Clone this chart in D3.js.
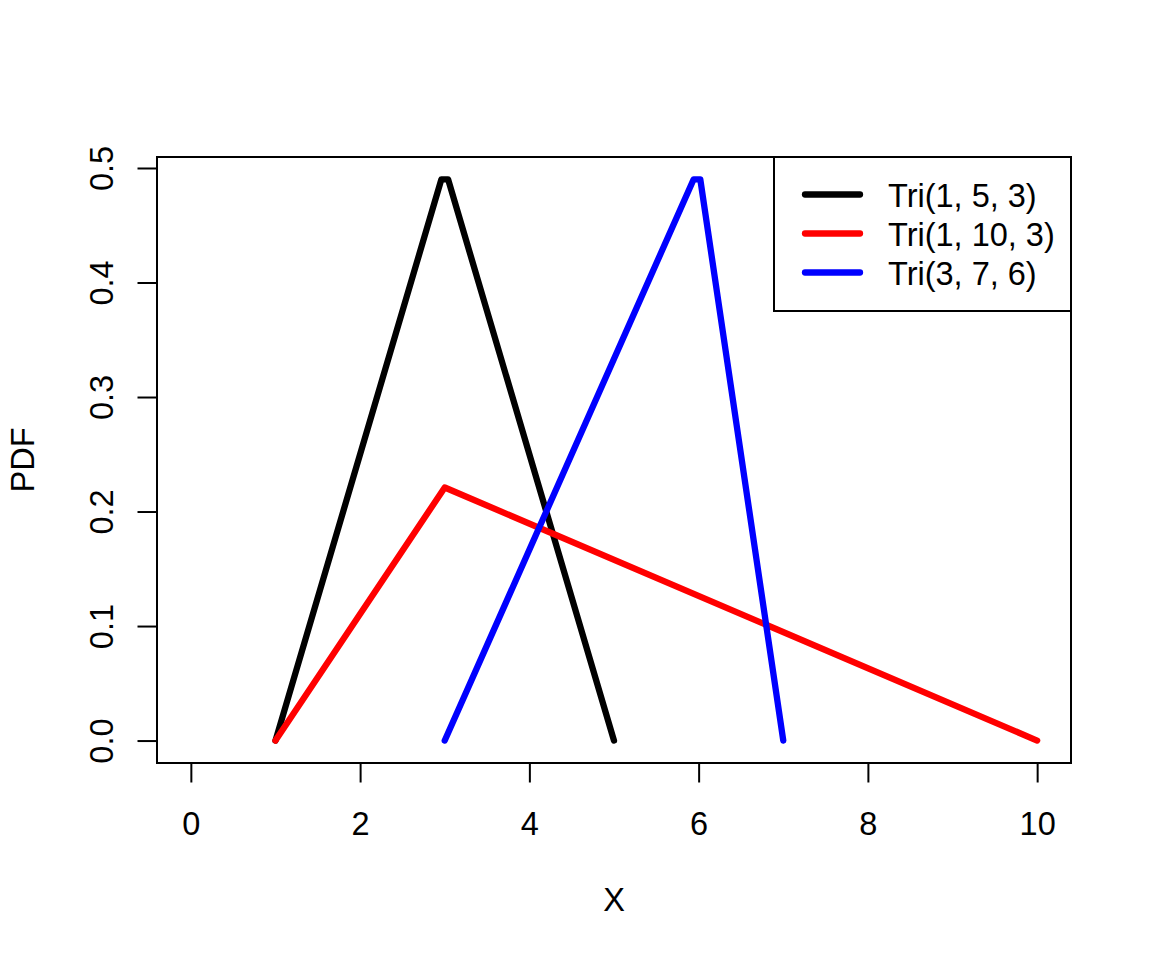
<!DOCTYPE html>
<html><head><meta charset="utf-8">
<script src="https://cdn.jsdelivr.net/npm/d3@7"></script>
<style>body{margin:0;background:#fff;} text{font-family:"Liberation Sans",Arial,sans-serif;}</style>
</head><body>
<svg id="c" width="1152" height="960"></svg>
<script>
// Data (vertices of each triangular PDF as drawn)
const seriesNames = ["Tri(1, 5, 3)", "Tri(1, 10, 3)", "Tri(3, 7, 6)"];
const seriesColors = ["#000000", "#ff0000", "#0000ff"];
const blackX = [1, 2.96, 3.04, 5];
const blackY = [0, 0.49, 0.49, 0];
const redX = [1, 3, 10];
const redY = [0, 0.221, 0];
const blueX = [3, 5.94, 6.02, 7];
const blueY = [0, 0.49, 0.49, 0];
const xTicks = [0, 2, 4, 6, 8, 10];
const yTicks = [0.0, 0.1, 0.2, 0.3, 0.4, 0.5];
const xTitle = "X", yTitle = "PDF";

const svg = d3.select("#c");
const L = 157, R = 1071, T = 157, B = 763;
const x = d3.scaleLinear().domain([-0.4, 10.4]).range([L, R]);
const y = d3.scaleLinear().domain([-0.0196, 0.5096]).range([B, T]);
const fs = 32.5;

// box
svg.append("rect").attr("x", L).attr("y", T).attr("width", R - L).attr("height", B - T)
  .attr("fill", "none").attr("stroke", "#000").attr("stroke-width", 2);

// x axis
const gx = svg.append("g").attr("transform", `translate(0,${B})`)
  .call(d3.axisBottom(x).tickValues(xTicks).tickFormat(d3.format("d")).tickSize(19.5).tickSizeOuter(0));
gx.select(".domain").attr("d", `M${x(0)},0H${x(10)}`).attr("stroke-width", 2);
gx.selectAll(".tick line").attr("stroke-width", 2);
gx.selectAll(".tick text").attr("font-size", fs).attr("fill", "#000")
  .attr("font-family", "Liberation Sans, Arial, sans-serif").attr("y", 72).attr("dy", 0);

// y axis
const gy = svg.append("g").attr("transform", `translate(${L},0)`)
  .call(d3.axisLeft(y).tickValues(yTicks).tickFormat(d3.format(".1f")).tickSize(19.5).tickSizeOuter(0));
gy.select(".domain").attr("d", `M0,${y(0)}V${y(0.5)}`).attr("stroke-width", 2);
gy.selectAll(".tick line").attr("stroke-width", 2);
gy.selectAll(".tick text").attr("font-size", fs).attr("fill", "#000")
  .attr("font-family", "Liberation Sans, Arial, sans-serif")
  .attr("x", null).attr("dy", 0).attr("text-anchor", "middle")
  .attr("transform", "translate(-44,0) rotate(-90)");

// axis titles
svg.append("text").attr("x", (L + R) / 2).attr("y", 911).attr("text-anchor", "middle")
  .attr("font-size", fs).text(xTitle);
svg.append("text").attr("transform", `translate(34,${(T + B) / 2}) rotate(-90)`)
  .attr("text-anchor", "middle").attr("font-size", fs).text(yTitle);

// lines
const series = [
  {xs: blackX, ys: blackY},
  {xs: redX, ys: redY},
  {xs: blueX, ys: blueY}
];
const line = d3.line().x(d => x(d[0])).y(d => y(d[1]));
series.forEach((s, i) => {
  const pts = s.xs.map((v, j) => [v, s.ys[j]]);
  svg.append("path").attr("d", line(pts)).attr("fill", "none")
    .attr("stroke", seriesColors[i]).attr("stroke-width", 6.3)
    .attr("stroke-linecap", "round").attr("stroke-linejoin", "round");
});

// legend
const lg = svg.append("g");
lg.append("rect").attr("x", 774).attr("y", T).attr("width", R - 774).attr("height", 311 - T)
  .attr("fill", "#fff").attr("stroke", "#000").attr("stroke-width", 2);
seriesNames.forEach((n, i) => {
  const yy = 194.5 + i * 39;
  lg.append("line").attr("x1", 805).attr("x2", 860).attr("y1", yy).attr("y2", yy)
    .attr("stroke", seriesColors[i]).attr("stroke-width", 6.3).attr("stroke-linecap", "round");
  lg.append("text").attr("x", 888).attr("y", yy + 12).attr("font-size", fs).text(n);
});
</script>
</body></html>
